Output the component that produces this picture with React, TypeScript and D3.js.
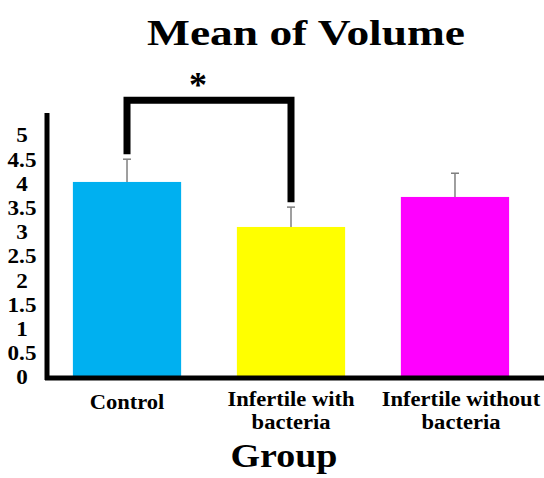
import React, { useRef, useEffect } from 'react';
import * as d3 from 'd3';

// data
const groups = ['Control', 'Infertile with bacteria', 'Infertile without bacteria'];
const groupLines = [['Control'], ['Infertile with', 'bacteria'], ['Infertile without', 'bacteria']];
const means = [4.03, 3.1, 3.72];
const errors = [0.47, 0.41, 0.49];
const colors = ['#00B0F0', '#FFFF00', '#FF00FF'];
const yTicks = [0, 0.5, 1, 1.5, 2, 2.5, 3, 3.5, 4, 4.5, 5];
const yTickLabels = ['0', '0.5', '1', '1.5', '2', '2.5', '3', '3.5', '4', '4.5', '5'];
const bracketLevel = 5.72;

const App = () => {
    const svgRef = useRef<SVGSVGElement>(null);

    useEffect(() => {
        const svg = d3.select(svgRef.current);
        svg.selectAll('*').remove();

        const width = 544;
        const font = '"Liberation Serif", "Times New Roman", serif';

        const x = d3.scaleBand()
            .domain(groups)
            .range([56, 526])
            .paddingInner(0.34)
            .paddingOuter(0.103);

        const y = d3.scaleLinear()
            .domain([0, 5])
            .range([377, 135]);

        // title
        svg.append('text')
            .attr('x', 306)
            .attr('y', 45)
            .attr('text-anchor', 'middle')
            .attr('font-family', font)
            .attr('font-weight', 'bold')
            .attr('font-size', 35)
            .attr('textLength', 318)
            .attr('lengthAdjust', 'spacingAndGlyphs')
            .text('Mean of Volume');

        // bars
        svg.append('g')
            .selectAll('rect')
            .data(groups)
            .enter()
            .append('rect')
            .attr('x', d => x(d)!)
            .attr('y', (d, i) => y(means[i]))
            .attr('width', x.bandwidth())
            .attr('height', (d, i) => y(0) - y(means[i]))
            .attr('fill', (d, i) => colors[i]);

        // error bars
        const err = svg.append('g')
            .attr('stroke', '#7f7f7f')
            .attr('stroke-width', 1.5);
        groups.forEach((g, i) => {
            const cx = x(g)! + x.bandwidth() / 2;
            err.append('line')
                .attr('x1', cx).attr('x2', cx)
                .attr('y1', y(means[i])).attr('y2', y(means[i] + errors[i]));
            err.append('line')
                .attr('x1', cx - 4).attr('x2', cx + 4)
                .attr('y1', y(means[i] + errors[i])).attr('y2', y(means[i] + errors[i]));
        });

        // significance bracket
        const c0 = x(groups[0])! + x.bandwidth() / 2;
        const c1 = x(groups[1])! + x.bandwidth() / 2;
        const gap = 0.1;
        const path = d3.path();
        path.moveTo(c0, y(means[0] + errors[0] + gap));
        path.lineTo(c0, y(bracketLevel));
        path.lineTo(c1, y(bracketLevel));
        path.lineTo(c1, y(means[1] + errors[1] + gap));
        svg.append('path')
            .attr('d', path.toString())
            .attr('fill', 'none')
            .attr('stroke', '#000')
            .attr('stroke-width', 7)
            .attr('stroke-linejoin', 'miter');

        svg.append('text')
            .attr('x', 198)
            .attr('y', 97)
            .attr('text-anchor', 'middle')
            .attr('font-family', font)
            .attr('font-weight', 'bold')
            .attr('font-size', 36)
            .text('*');

        // axes lines
        svg.append('line')
            .attr('x1', 47).attr('x2', 47)
            .attr('y1', 113).attr('y2', 380)
            .attr('stroke', '#000')
            .attr('stroke-width', 5);
        svg.append('line')
            .attr('x1', 45).attr('x2', width)
            .attr('y1', 378).attr('y2', 378)
            .attr('stroke', '#000')
            .attr('stroke-width', 5);

        // y tick labels
        svg.append('g')
            .selectAll('text')
            .data(yTicks)
            .enter()
            .append('text')
            .attr('x', 22)
            .attr('y', d => y(d))
            .attr('dy', '0.35em')
            .attr('text-anchor', 'middle')
            .attr('font-family', font)
            .attr('font-weight', 'bold')
            .attr('font-size', 21)
            .attr('transform', 'translate(-2.2,0) scale(1.1,1)')
            .text((d, i) => yTickLabels[i]);

        // category labels (slightly widened, like the original)
        groups.forEach((g, i) => {
            const cx = x(g)! + x.bandwidth() / 2 + (i === 2 ? 6 : 0);
            const lab = svg.append('g')
                .attr('transform', `translate(${cx},0) scale(1.1,1)`);
            groupLines[i].forEach((line, j) => {
                lab.append('text')
                    .attr('x', 0)
                    .attr('y', (i === 0 ? 409 : 406) + j * 23)
                    .attr('text-anchor', 'middle')
                    .attr('font-family', font)
                    .attr('font-weight', 'bold')
                    .attr('font-size', 20.5)
                    .text(line);
            });
        });

        // x axis title
        svg.append('text')
            .attr('x', 284)
            .attr('y', 467)
            .attr('text-anchor', 'middle')
            .attr('font-family', font)
            .attr('font-weight', 'bold')
            .attr('font-size', 33)
            .attr('textLength', 107)
            .attr('lengthAdjust', 'spacingAndGlyphs')
            .text('Group');
    }, []);

    return (
        <div style={{ position: 'absolute', left: 0, top: 0 }}>
            <svg ref={svgRef} width={544} height={478} style={{ display: 'block', background: '#fff' }} />
        </div>
    );
};

export default App;
